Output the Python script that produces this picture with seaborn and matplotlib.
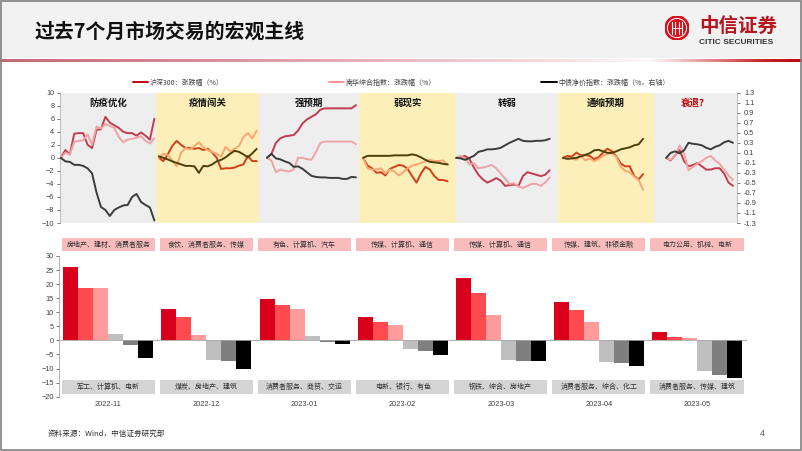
import numpy as np
import pandas as pd
import matplotlib
matplotlib.use("Agg")
import matplotlib.pyplot as plt
import matplotlib.transforms as mtransforms
from matplotlib.patches import Rectangle, Circle
from matplotlib.lines import Line2D
import seaborn as sns

# ---------------- data ----------------
months = ["2022-11", "2022-12", "2023-01", "2023-02", "2023-03", "2023-04", "2023-05"]
themes = ["防疫优化", "疫情闯关", "强预期", "弱现实", "转弱", "通缩预期", "衰退？"]

# 沪深300 涨跌幅(%) per month window
hs300_nov = [0, 1.2, 0.5, 3.7, 3.8, 3.8, 2.0, 1.5, 4.3, 4.4, 6.3, 5.4, 5.0, 4.6, 4.0, 3.8, 3.8, 3.4, 3.9, 3.4, 2.8, 6.0]
hs300_dec = [0, -0.5, 0.5, 1.8, 2.6, 2.0, 1.5, 1.5, 1.4, 1.5, 1.2, 1.4, 0.8, 0.0, -1.7, -1.6, -1.6, -1.5, -1.2, -1.0, 0.3, -0.5, -0.5]
hs300_jan = [0, 0.6, 2.3, 3.0, 3.3, 3.4, 3.5, 4.2, 5.3, 5.9, 6.3, 6.7, 7.4, 7.6, 7.6, 7.6, 7.6, 7.6, 7.6, 7.6, 8.1]
hs300_feb = [0, -1.2, -1.6, -2.3, -2.2, -2.7, -1.7, -1.4, -1.1, -1.2, -1.7, -2.8, -3.8, -2.4, -1.4, -1.8, -2.8, -3.4, -3.4, -3.6]
hs300_mar = [0, 0.1, 0.3, -0.2, -1.5, -2.6, -3.3, -3.8, -3.5, -3.1, -3.5, -4.3, -4.2, -4.1, -4.3, -2.8, -2.2, -2.4, -2.6, -2.8, -2.6, -1.9]
hs300_apr = [0, 0.3, 0.2, 0.8, 0.4, 0.4, 0.3, -0.2, 0.1, 0.8, 1.4, 1.0, 0.2, -0.9, -1.3, -1.3, -2.8, -3.3, -2.5]
hs300_may = [0, -0.4, 0.4, 1.2, -0.5, -1.3, -1.1, -0.8, -1.3, -1.8, -1.8, -1.6, -1.6, -2.4, -3.8, -4.3]

# 南华综合指数 涨跌幅(%)
nanhua_nov = [0, 0.8, 0.5, 2.5, 2.6, 2.7, 3.6, 2.0, 4.8, 4.5, 5.2, 4.9, 4.6, 3.2, 2.4, 2.8, 2.9, 3.1, 3.3, 2.6, 2.2, 3.0]
nanhua_dec = [0, 0.6, 0.5, -0.4, -1.3, 0.8, 1.5, 1.3, 1.8, 2.4, 1.6, 1.2, 0.9, 0.6, 0.2, 1.7, 1.0, 1.4, 1.8, 3.2, 3.8, 3.0, 4.2]
nanhua_jan = [0, -0.4, -2.2, -1.8, -2.0, -2.1, -1.8, 0.0, 0.0, -0.2, -0.3, 0.9, 2.3, 2.5, 2.5, 2.5, 2.5, 2.5, 2.5, 2.5, 2.1]
nanhua_feb = [0, -1.6, -1.8, -1.8, -1.6, -2.4, -1.8, -2.1, -2.7, -2.2, -1.6, -1.2, -1.0, -0.8, -0.5, -0.3, -0.5, -0.5, -0.4, -1.1]
nanhua_mar = [0, 0.3, -0.1, -1.0, -0.8, -1.6, -1.5, -1.3, -1.1, -1.6, -2.4, -3.2, -4.0, -3.9, -4.4, -4.6, -4.3, -4.0, -4.0, -4.3, -3.8, -3.0]
nanhua_apr = [0, 0.0, -0.1, -0.3, 0.3, -0.4, -0.1, -0.5, -0.2, 0.3, 0.6, 0.7, 0.1, -1.4, -2.0, -2.2, -2.9, -3.4, -4.9]
nanhua_may = [0, -0.3, 0.3, 1.9, 0.7, -1.9, -1.4, -0.9, -0.5, 0.0, 0.3, -0.4, -0.9, -1.8, -2.7, -3.4]

# 中债净价指数 涨跌幅(%, 右轴)
bond_nov = [0, -0.07, -0.08, -0.14, -0.14, -0.16, -0.21, -0.31, -0.69, -0.98, -1.04, -1.16, -1.04, -0.99, -0.95, -0.94, -0.78, -0.72, -0.88, -0.94, -0.99, -1.25]
bond_dec = [0.03, 0.0, -0.03, -0.07, -0.10, -0.13, -0.16, -0.16, -0.17, -0.30, -0.16, -0.17, -0.13, -0.07, -0.04, 0.01, 0.08, 0.14, 0.12, 0.07, 0.01, 0.09, 0.18]
bond_jan = [0, 0.08, -0.01, -0.03, -0.07, -0.10, -0.18, -0.17, -0.22, -0.29, -0.36, -0.38, -0.39, -0.39, -0.40, -0.40, -0.40, -0.42, -0.42, -0.38, -0.39]
bond_feb = [0, 0.04, 0.04, 0.04, 0.04, 0.04, 0.04, 0.05, 0.05, 0.05, 0.05, 0.07, 0.05, 0.01, -0.04, -0.08, -0.09, -0.10, -0.12, -0.13]
bond_mar = [0, -0.01, -0.04, 0.0, 0.04, 0.12, 0.14, 0.17, 0.17, 0.18, 0.20, 0.25, 0.30, 0.34, 0.38, 0.34, 0.33, 0.33, 0.34, 0.34, 0.35, 0.38]
bond_apr = [0, -0.02, -0.01, 0.0, 0.03, 0.06, 0.09, 0.15, 0.16, 0.13, 0.10, 0.10, 0.13, 0.17, 0.19, 0.21, 0.25, 0.27, 0.38]
bond_may = [0, 0.10, 0.13, 0.09, 0.15, 0.30, 0.28, 0.27, 0.25, 0.20, 0.17, 0.22, 0.25, 0.31, 0.34, 0.30]

hs300 = [hs300_nov, hs300_dec, hs300_jan, hs300_feb, hs300_mar, hs300_apr, hs300_may]
nanhua = [nanhua_nov, nanhua_dec, nanhua_jan, nanhua_feb, nanhua_mar, nanhua_apr, nanhua_may]
bond = [bond_nov, bond_dec, bond_jan, bond_feb, bond_mar, bond_apr, bond_may]

# industry monthly returns (%): top 3 and bottom 3
rank_labels = ["涨幅第1", "涨幅第2", "涨幅第3", "跌幅第3", "跌幅第2", "跌幅第1"]
top1 = [26.1, 11.0, 14.7, 8.2, 22.2, 13.7, 3.0]
top2 = [18.7, 8.2, 12.6, 6.4, 16.9, 10.8, 1.1]
top3 = [18.7, 2.0, 11.1, 5.5, 9.0, 6.5, 0.7]
bot3 = [2.4, -7.0, 1.5, -3.2, -7.0, -7.6, -10.9]
bot2 = [-1.7, -7.3, -0.7, -3.7, -7.2, -8.2, -12.4]
bot1 = [-6.4, -10.2, -1.4, -5.2, -7.3, -9.0, -13.2]
top_names = ["房地产、建材、消费者服务", "食饮、消费者服务、传媒", "有色、计算机、汽车", "传媒、计算机、通信",
             "传媒、计算机、通信", "传媒、建筑、非银金融", "电力公用、机械、电新"]
bottom_names = ["军工、计算机、电新", "煤炭、房地产、建筑", "消费者服务、商贸、交运", "电新、银行、有色",
                "钢铁、综合、房地产", "消费者服务、综合、化工", "消费者服务、传媒、建筑"]

legend_labels = ["沪深300：涨跌幅（%）", "南华综合指数：涨跌幅（%）", "中债净价指数：涨跌幅（%，右轴）"]

# ---------------- layout (trading-day units on top chart) ----------------
PANEL_EDGES = [0, 21.5, 44.7, 67.2, 89.0, 111.9, 133.5, 152.0]
LINE_START = [0.2, 22.2, 46.5, 68.1, 89.0, 113.0, 136.2]

# ---------------- style ----------------
sns.set_theme(style="white")
plt.rcParams["font.family"] = ["Liberation Sans", "Noto Sans CJK SC", "DejaVu Sans"]
CJK = ["Noto Sans CJK SC", "DejaVu Sans"]
TXT = "#404040"

W, H = 802, 451
fig = plt.figure(figsize=(W / 100, H / 100), dpi=100)
fig.patch.set_facecolor("white")

def fx(px):
    return px / W

def fy(py):
    return 1 - py / H

# header band
fig.add_artist(Rectangle((0, fy(58)), 1, 58 / H, transform=fig.transFigure,
                         facecolor="#f2f2f2", edgecolor="none", zorder=0))
# gradient rule
axg = fig.add_axes([0, fy(62), 1, 3 / H])
gx = np.linspace(0, W, 400)
anch_x = [0, 200, 400, 560, 650, 672, 720, 760, 802]
anch_c = np.array([(198, 105, 115), (215, 140, 150), (235, 185, 192), (245, 222, 224),
                   (253, 250, 250), (245, 212, 214), (222, 120, 122), (200, 40, 42), (185, 10, 15)]) / 255
grad = np.stack([np.interp(gx, anch_x, anch_c[:, k]) for k in range(3)], axis=1)
axg.imshow(grad[None, :, :], aspect="auto", extent=[0, 1, 0, 1])
axg.axis("off")

fig.text(fx(35), fy(31), "过去7个月市场交易的宏观主线", fontsize=14.3, fontweight="bold",
         color="#111111", va="center", ha="left", family=CJK)

# logo
axl = fig.add_axes([fx(665), fy(40), 24 / W, 24 / H])
axl.set_xlim(0, 1); axl.set_ylim(0, 1); axl.axis("off")
axl.add_patch(Circle((0.5, 0.5), 0.5, color="#d4121c"))
axl.add_patch(Circle((0.5, 0.5), 0.40, fill=False, ec="white", lw=0.7))
for xx in [0.30, 0.42, 0.58, 0.70]:
    axl.plot([xx, xx], [0.25, 0.75], color="white", lw=0.8)
axl.plot([0.3, 0.7], [0.5, 0.5], color="white", lw=0.6)
fig.text(fx(699), fy(26), "中信证券", fontsize=14, fontweight="bold", color="#b3141e",
         va="center", ha="left", family=CJK)
fig.text(fx(699), fy(42), "CITIC SECURITIES", fontsize=6.0, fontweight="bold", color="#333333",
         va="center", ha="left", family=["Liberation Sans Narrow", "Liberation Sans"])

# ---------------- top chart ----------------
ax = fig.add_axes([fx(60), fy(223), (737 - 60) / W, (223 - 92.7) / H])
rows = []
for p in range(7):
    for name, series in ((legend_labels[0], hs300), (legend_labels[1], nanhua)):
        for j, v in enumerate(series[p]):
            rows.append({"x": LINE_START[p] + j, "value": v, "series": name, "panel": p})
df_eq = pd.DataFrame(rows)
brows = []
for p in range(7):
    for j, v in enumerate(bond[p]):
        brows.append({"x": LINE_START[p] + j, "value": v, "panel": p})
df_bond = pd.DataFrame(brows)

line_cols = {legend_labels[0]: "#c0001a", legend_labels[1]: "#ff9595"}
sns.lineplot(data=df_eq, x="x", y="value", hue="series", units="panel", estimator=None,
             palette=line_cols, lw=1.4, ax=ax, legend=False, sort=False)
ax.set_xlim(0, 152.1)
ax.set_ylim(-10, 10)
ax.set_yticks(np.arange(-10, 11, 2))
ax.set_xticks([])
ax.set_xlabel(""); ax.set_ylabel("")

ax2 = ax.twinx()
sns.lineplot(data=df_bond, x="x", y="value", units="panel", estimator=None,
             color="#000000", lw=1.4, ax=ax2, legend=False, sort=False, zorder=1)
ax2.set_ylim(-1.3, 1.3)
ax2.set_yticks(np.round(np.arange(-1.3, 1.31, 0.2), 1))
ax2.set_yticklabels([f"{t:.1f}" for t in np.round(np.arange(-1.3, 1.31, 0.2), 1)])
ax2.set_xlabel(""); ax2.set_ylabel("")
ax2.set_xticks([])

gray_ov = ((0.78, 0.78, 0.78), 0.30)
yel_ov = ((0.97, 0.80, 0.12), 0.31)
ttrans = mtransforms.blended_transform_factory(ax2.transData, ax2.transAxes)
for p in range(7):
    c, a = yel_ov if p % 2 == 1 else gray_ov
    ax2.axvspan(PANEL_EDGES[p], PANEL_EDGES[p + 1], facecolor=c, alpha=a, lw=0, zorder=2)
    ax2.text((PANEL_EDGES[p] + PANEL_EDGES[p + 1]) / 2, 0.92, themes[p], transform=ttrans,
             ha="center", va="center", fontsize=6.8, fontweight="bold",
             color="#c00000" if p == 6 else "#111111", family=CJK, zorder=3)

for a_ in (ax, ax2):
    for s in ("top", "bottom"):
        a_.spines[s].set_visible(False)
    for s in ("left", "right"):
        a_.spines[s].set_color("#b0b0b0")
        a_.spines[s].set_linewidth(0.6)
    a_.tick_params(axis="y", labelsize=5.3, colors=TXT, length=2, width=0.5, pad=2)
    for t in a_.get_yticklabels():
        t.set_color(TXT)
ax.spines["right"].set_visible(False)
ax2.spines["left"].set_visible(False)
ax2.tick_params(axis="y", pad=3)

# legend
handles = [Line2D([], [], color="#c0001a", lw=1.4), Line2D([], [], color="#ff9595", lw=1.4),
           Line2D([], [], color="#000000", lw=1.4)]
leg = fig.legend(handles, legend_labels, loc="center", bbox_to_anchor=(fx(401), fy(82.7)),
                 ncol=3, frameon=False, handlelength=2.2, handletextpad=0.2,
                 columnspacing=15.2, borderaxespad=0, prop={"family": CJK, "size": 5.0})
for t in leg.get_texts():
    t.set_color(TXT)

# ---------------- bottom chart ----------------
axb = fig.add_axes([fx(59.3), fy(396.7), (746 - 59.3) / W, (396.7 - 256) / H])
bar_rows = []
for r, vals in zip(rank_labels, [top1, top2, top3, bot3, bot2, bot1]):
    for m, v in zip(months, vals):
        bar_rows.append({"month": m, "rank": r, "value": v})
df_bar = pd.DataFrame(bar_rows)
bar_cols = ["#d9001b", "#ff4b4f", "#ff9b9b", "#bfbfbf", "#7f7f7f", "#000000"]
sns.barplot(data=df_bar, x="month", y="value", hue="rank", hue_order=rank_labels, order=months,
            palette=bar_cols, width=0.918, saturation=1, dodge=True, ax=axb, legend=False,
            linewidth=0, edgecolor="none")
axb.set_ylim(-20, 30)
axb.set_yticks(np.arange(-20, 31, 5))
axb.set_xlim(-0.5, 6.5)
axb.set_xlabel(""); axb.set_ylabel("")
axb.set_xticks(np.arange(-0.5, 7.0, 1.0))
axb.set_xticklabels([])
for s in ("top", "right"):
    axb.spines[s].set_visible(False)
axb.spines["bottom"].set_position(("data", 0))
for s in ("left", "bottom"):
    axb.spines[s].set_color("#a6a6a6")
    axb.spines[s].set_linewidth(0.6)
axb.tick_params(axis="y", labelsize=5.3, colors=TXT, length=2, width=0.5, pad=2, left=True)
axb.tick_params(axis="x", length=1.5, width=0.5, colors="#a6a6a6", direction="inout", bottom=True)

btrans = mtransforms.blended_transform_factory(axb.transData, axb.transAxes)
for i in range(7):
    axb.add_patch(Rectangle((i - 0.475, 1.0355), 0.95, 0.0903, transform=btrans,
                            facecolor="#f8bcbc", edgecolor="none", clip_on=False))
    axb.text(i, 1.081, top_names[i], transform=btrans, ha="center", va="center",
             fontsize=5.0, color="#333333", family=CJK, clip_on=False)
    axb.add_patch(Rectangle((i - 0.475, 0.0192), 0.95, 0.0995, transform=btrans,
                            facecolor="#d4d4d4", edgecolor="none", clip_on=False))
    axb.text(i, 0.069, bottom_names[i], transform=btrans, ha="center", va="center",
             fontsize=5.0, color="#333333", family=CJK)
    axb.text(i, -0.054, months[i], transform=btrans, ha="center", va="center",
             fontsize=5.3, color=TXT)

# footer
fig.text(fx(48), fy(434), "资料来源：Wind，中信证券研究部", fontsize=5.5, color="#333333",
         va="center", ha="left", family=CJK)
fig.text(fx(762), fy(433), "4", fontsize=6.5, color="#555555", va="center", ha="center")

# slide border
fig.add_artist(Rectangle((0.001, 0.002), 0.998, 0.996, transform=fig.transFigure, fill=False,
                         edgecolor="#808080", lw=1.2, zorder=20))

fig.savefig("out.png", dpi=100)
